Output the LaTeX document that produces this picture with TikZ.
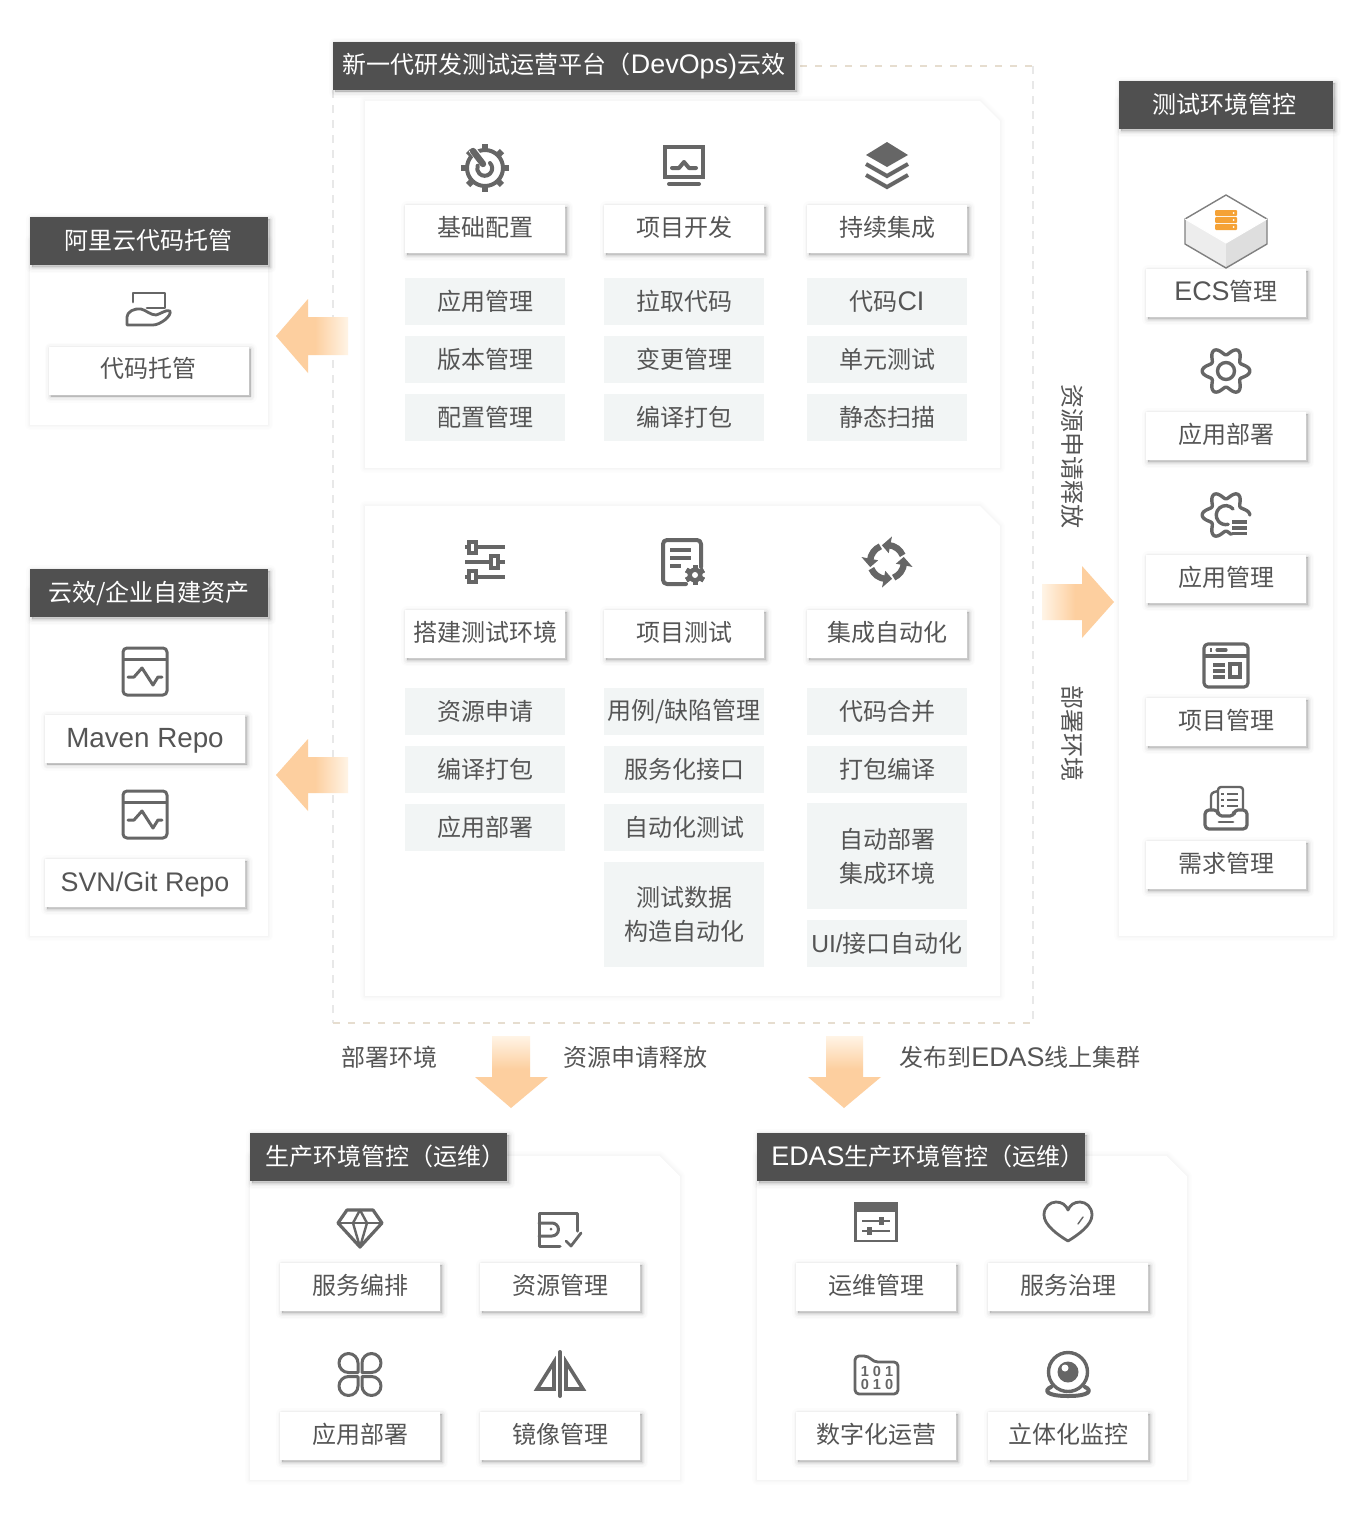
\documentclass[tikz,border=0pt]{standalone}
\usepackage{fontspec}
\usetikzlibrary{shadows}
\setmainfont{Noto Sans CJK SC}
\newfontfamily\latfont[Scale=1.12]{Liberation Sans}
\newcommand{\lat}[1]{{\latfont #1}}

\definecolor{barc}{HTML}{505050}
\definecolor{textc}{HTML}{555555}
\definecolor{iconc}{HTML}{666666}
\definecolor{cellc}{HTML}{F2F5F5}
\definecolor{arrowc}{HTML}{FDCF9F}
\definecolor{arrowend}{HTML}{FFF4E6}
\definecolor{dashc}{HTML}{E8E8E8}
\definecolor{dotc}{HTML}{E6DDCF}
\definecolor{ecsc}{HTML}{F5A236}

\pgfdeclarehorizontalshading{arrowfade}{100bp}{color(0bp)=(arrowc); color(52bp)=(arrowc); color(75bp)=(arrowend); color(100bp)=(arrowend)}

\tikzset{
    softline/.style={draw=black, fill=black, line join=round, line width=#1},
    cardedge/.style={
        general shadow={softline=6pt, opacity=.01, shadow xshift=1pt, shadow yshift=-1.2pt},
        general shadow={softline=4.5pt, opacity=.016, shadow xshift=1pt, shadow yshift=-1.2pt},
        general shadow={softline=3pt, opacity=.03, shadow xshift=1pt, shadow yshift=-1.2pt},
        general shadow={softline=1.5pt, opacity=.04, shadow xshift=1pt, shadow yshift=-1.2pt},
        general shadow={softline=.5pt, opacity=.05, shadow xshift=1pt, shadow yshift=-1.2pt}},
    paneledge/.style={
        general shadow={softline=5pt, opacity=.006, shadow xshift=0pt, shadow yshift=0pt},
        general shadow={softline=3.5pt, opacity=.008, shadow xshift=0pt, shadow yshift=0pt},
        general shadow={softline=2pt, opacity=.01, shadow xshift=0pt, shadow yshift=0pt},
        general shadow={softline=.8pt, opacity=.01, shadow xshift=0pt, shadow yshift=-.2pt}},
    panelbody/.style={fill=white, paneledge},
    cardbox/.style={fill=white, cardedge, text=textc, inner sep=0pt, minimum width=80pt, minimum height=24pt, text height=10.5pt, text depth=3.4pt},
    cellbox/.style={fill=cellc, text=textc, inner sep=0pt, minimum width=80pt, minimum height=23.5pt, align=center},
    titlebar/.style={fill=barc, cardedge, text=white, inner sep=0pt, minimum height=24pt, text height=10.5pt, text depth=2.4pt},
    plainlabel/.style={text=textc, inner sep=0pt},
    iconline/.style={draw=iconc, line width=#1, line cap=round, line join=round},
    iconline/.default=1.5pt,
    blockarrow/.style={shading=arrowfade, shading angle=#1},
    gearclock/.pic={
        \foreach \a in {0,45,...,315} {
            \fill[iconc, rotate=\a] (-3,-24) rectangle (3,-17);
        }
        \draw[iconc, line width=2pt] (0,0) circle[radius=18];
        \draw[white, line width=4pt] (-13,-19) -- (-1,-3);
        \draw[iconc, line width=3.2pt, line cap=round] (-12,-17) -- (-2,-4);
        \draw[iconline=2pt] (5,-5) arc[start angle=-45, end angle=200, radius=7.5];
    },
    monitoricon/.pic={
        \draw[iconc, line width=2pt] (-19,-18) rectangle (19,12);
        \draw[iconline=2pt] (-12,3) -- (-5,3) -- (0,-3) -- (5,3) -- (12,3);
        \draw[iconline=2pt] (-15,19) -- (15,19);
    },
    layericon/.pic={
        \fill[iconc, line join=round] (0,-23) -- (21,-10) -- (0,2) -- (-21,-10) -- cycle;
        \draw[iconc, line width=2pt] (-21,-1) -- (0,11) -- (21,-1);
        \draw[iconc, line width=2pt] (-21,10) -- (0,22) -- (21,10);
    },
    slidericon/.pic={
        \draw[iconc, line width=2pt] (-20,-15) -- (20,-15);
        \draw[iconc, line width=2pt] (-20,0) -- (20,0);
        \draw[iconc, line width=2pt] (-20,15) -- (20,15);
        \draw[iconc, line width=2pt, fill=white] (-16,-20) rectangle (-9,-9);
        \draw[iconc, line width=2pt, fill=white] (6,-6) rectangle (13,6);
        \draw[iconc, line width=2pt, fill=white] (-16,9) rectangle (-9,20);
    },
    docgearicon/.pic={
        \draw[iconline=2pt, rounded corners=2pt] (18,5) -- (18,-22) -- (-20,-22) -- (-20,22) -- (3,22);
        \fill[iconc] (-13,-14) rectangle (8,-10);
        \fill[iconc] (-13,-6) rectangle (8,-2);
        \fill[iconc] (-13,2) rectangle (-2,6);
        \foreach \a in {0,60,...,300} {
            \fill[iconc, rotate around={\a:(12,13)}] (9.5,3) rectangle (14.5,23);
        }
        \fill[iconc] (12,13) circle[radius=7.5];
        \fill[white] (12,13) circle[radius=3];
    },
    cycleicon/.pic={
        \foreach \a in {-107,-17,73,163} {
            \draw[iconc, line width=3.2pt] (\a+22:17) arc[start angle=\a+22, end angle=\a+84, radius=17];
            \fill[iconc] (\a:17.5) -- (\a+28:9) -- (\a+28:26) -- cycle;
        }
    },
    ecsicon/.pic={
        \fill[white] (0,-37) -- (41,-13) -- (0,11) -- (-41,-13) -- cycle;
        \fill[black!7] (-41,-13) -- (0,11) -- (0,36) -- (-41,12) -- cycle;
        \fill[black!13] (41,-13) -- (0,11) -- (0,36) -- (41,12) -- cycle;
        \draw[black!50, line width=.7pt, line join=round] (0,-37) -- (41,-13) -- (41,12) -- (0,36) -- (-41,12) -- (-41,-13) -- cycle;
        \draw[white, line width=.5pt] (-41,-13) -- (0,11) -- (41,-13);
        \foreach \v in {-22,-15,-8} {
            \fill[ecsc, rounded corners=.5pt] (-11,\v) rectangle (11,\v+6);
            \fill[white] (7.5,\v+3) circle[radius=1];
        }
    },
    gearoutline/.pic={
        \draw[iconline=1.7pt] plot[domain=0:360, samples=120, smooth] ({(20+3.8*cos(6*\x))*cos(\x)}, {(20+3.8*cos(6*\x))*sin(\x)}) -- cycle;
        \draw[iconline=1.7pt] (0,0) circle[radius=8.5];
    },
    gearlisticon/.pic={
        \draw[iconline=1.7pt] plot[domain=75:360, samples=100, smooth] ({(20+3.8*cos(6*\x))*cos(\x)}, {(20+3.8*cos(6*\x))*sin(\x)});
        \draw[iconline=1.7pt] (7,-6) arc[start angle=-40, end angle=-285, radius=9.5];
        \draw[iconc, line width=1.6pt] (6,7) -- (21,7);
        \draw[iconc, line width=1.6pt] (6,13) -- (21,13);
        \draw[iconc, line width=1.6pt] (6,18.5) -- (21,18.5);
    },
    windowicon/.pic={
        \draw[iconline=1.6pt, rounded corners=2pt] (-22,-21) rectangle (22,22);
        \draw[iconc, line width=1.6pt] (-22,-9) -- (22,-9);
        \draw[iconc, line width=1.6pt] (-16,-15) -- (-14,-15);
        \draw[iconline=1.6pt] (-9,-15) -- (0,-15);
        \draw[iconc, line width=1.6pt] (-13,0) -- (-1,0);
        \draw[iconc, line width=1.6pt] (-13,6) -- (-1,6);
        \draw[iconc, line width=1.6pt] (-13,12) -- (-1,12);
        \draw[iconc, line width=1.6pt] (4,-1) rectangle (14,12);
    },
    trayicon/.pic={
        \draw[iconline=1.2pt, rounded corners=1.5pt] (-8,3) -- (-8,-21) -- (17,-21) -- (17,3);
        \draw[iconline=1.2pt, rounded corners=1.5pt] (-15,3) -- (-15,-15) -- (-8,-17);
        \draw[iconc, line width=1.2pt] (-5,-14) -- (-2,-14);
        \draw[iconc, line width=1.2pt] (1,-14) -- (12,-14);
        \draw[iconc, line width=1.2pt] (-5,-8) -- (-2,-8);
        \draw[iconc, line width=1.2pt] (1,-8) -- (12,-8);
        \draw[iconc, line width=1.2pt] (-5,-2) -- (-2,-2);
        \draw[iconc, line width=1.2pt] (1,-2) -- (12,-2);
        \draw[iconline=1.6pt, fill=white, rounded corners=2pt] (-21,2) -- (-8,2) -- (-8,8) -- (8,8) -- (8,2) -- (21,2) -- (21,21) -- (-21,21) -- cycle;
        \draw[iconline=1.4pt] (-7,14) -- (7,14);
    },
    handicon/.pic={
        \draw[iconline=1.4pt] (-15,-7) -- (-15,-16) -- (17,-16) -- (17,-1) -- (-1,-1);
        \draw[iconline=1.4pt] (-21,16) -- (-21,8) .. controls (-21,3) and (-14,-1) .. (-7,0) .. controls (-2,1) and (2,6) .. (8,6) .. controls (13,5) and (18,0) .. (22,2) .. controls (24,7) and (12,16) .. (5,16) -- cycle;
    },
    repoicon/.pic={
        \draw[iconline=1.5pt, rounded corners=2pt] (-22,-23) rectangle (22,24);
        \draw[iconc, line width=1.5pt] (-22,-12) -- (22,-12);
        \draw[iconline=1.5pt] (-17,6) -- (-11,6) -- (-3,-3) -- (8,14) -- (13,6) -- (17,6);
    },
    diamondicon/.pic={
        \draw[iconline=1.6pt] (-13,-18) -- (13,-18) -- (22,-5) -- (0,19) -- (-22,-5) -- cycle;
        \draw[iconline=1.2pt] (-22,-5) -- (22,-5);
        \draw[iconline=1.2pt] (-7,-5) -- (0,-18) -- (7,-5) -- (0,19) -- cycle;
    },
    walleticon/.pic={
        \draw[iconline=1.5pt] (17,2) -- (17,-16) -- (-21,-16) -- (-21,17) -- (0,17);
        \draw[iconline=1.5pt] (-21,-6) -- (-8,-6) arc[start angle=-90, end angle=90, radius=6.5] -- (-21,7);
        \fill[iconc] (-9,0) circle[radius=1.5];
        \draw[iconline=1.4pt] (6,12) -- (11,17) -- (21,4);
    },
    clovericon/.pic={
        \foreach \sx/\sy in {1/1,1/-1,-1/1,-1/-1} {
            \draw[iconline=1.5pt, xscale=\sx, yscale=\sy] (2,2) -- (2,11.5) arc[start angle=180, end angle=-90, radius=9.5] -- cycle;
        }
    },
    mirroricon/.pic={
        \draw[iconline=2pt] (0,-22) -- (0,22);
        \draw[iconc, line width=1.8pt, line join=miter] (-6,-12) -- (-6,15) -- (-23,15) -- cycle;
        \draw[iconc, line width=1.8pt, line join=miter] (6,-12) -- (6,15) -- (23,15) -- cycle;
    },
    sliderwinicon/.pic={
        \draw[iconc, line width=1.4pt] (-20.5,-19) rectangle (20.5,19);
        \fill[iconc] (-20.5,-19) rectangle (20.5,-10);
        \draw[iconc, line width=1.2pt] (-14,-1) -- (14,-1);
        \draw[iconc, line width=1.2pt] (-14,9) -- (14,9);
        \fill[iconc] (3,-5) rectangle (8,3);
        \fill[iconc] (-9,5) rectangle (-4,13);
    },
    hearticon/.pic={
        \draw[iconline=1.4pt] (0,20) .. controls (-10,14) and (-24,4) .. (-24,-6) .. controls (-24,-14) and (-18,-19) .. (-12,-19) .. controls (-6,-19) and (-2,-16) .. (0,-11) .. controls (2,-16) and (6,-19) .. (12,-19) .. controls (18,-19) and (24,-14) .. (24,-6) .. controls (24,4) and (10,14) .. (0,20) -- cycle;
        \draw[iconline=.7pt] (10,3) -- (15,-4);
    },
    foldericon/.pic={
        \draw[iconline=1.4pt, rounded corners=2pt] (-21,19) -- (-21,-19) -- (-8,-19) -- (-2,-13) -- (22,-13) -- (22,19) -- cycle;
    },
    webcamicon/.pic={
        \draw[iconc, line width=1.7pt] (0,-3) circle[radius=19.5];
        \fill[iconc] (0,-3) circle[radius=10.5];
        \fill[white] (-3,-7) circle[radius=3.5];
        \draw[iconline=2pt] (-17,12) .. controls (-24,15) and (-23,21) .. (0,21) .. controls (23,21) and (24,15) .. (17,12);
    },
}

\begin{document}
\begin{tikzpicture}[x=.5pt, y=-.5pt]
    \fontsize{12}{17}\selectfont
    \useasboundingbox (0,0) rectangle (1360,1521);
    \fill[white] (0,0) rectangle (1360,1521);

    % dashed frame round the two middle panels
    \draw[dashc, line width=.6pt, dash pattern=on 4pt off 3.5pt] (333,90) -- (333,1023);
    \draw[dashc, line width=.6pt, dash pattern=on 4pt off 3.5pt] (1033,66) -- (1033,1023);
    \draw[dotc, line width=.6pt, dash pattern=on 3.5pt off 4pt] (800,66) -- (1033,66);
    \draw[dotc, line width=.6pt, dash pattern=on 3.5pt off 4pt] (333,1023) -- (1033,1023);

    % panels
    \path[panelbody] (365,101) -- (980,101) -- (1000,121) -- (1000,468) -- (365,468) -- cycle;
    \path[panelbody] (365,506) -- (980,506) -- (1000,526) -- (1000,996) -- (365,996) -- cycle;
    \path[panelbody] (1119,100) rectangle (1333,936);
    \path[panelbody] (30,240) rectangle (268,425);
    \path[panelbody] (30,590) rectangle (268,936);
    \path[panelbody] (250,1156) -- (660,1156) -- (680,1176) -- (680,1480) -- (250,1480) -- cycle;
    \path[panelbody] (757,1156) -- (1167,1156) -- (1187,1176) -- (1187,1480) -- (757,1480) -- cycle;

    % block arrows
    \shade[blockarrow=0] (276,336) -- (308,299) -- (308,317) -- (348,317) -- (348,355) -- (308,355) -- (308,373) -- cycle;
    \shade[blockarrow=0] (276,775) -- (308,739) -- (308,757) -- (348,757) -- (348,793) -- (308,793) -- (308,811) -- cycle;
    \shade[blockarrow=180] (1114,602) -- (1082,566) -- (1082,584) -- (1042,584) -- (1042,620) -- (1082,620) -- (1082,638) -- cycle;
    \shade[blockarrow=90] (511,1108) -- (475,1077) -- (492,1077) -- (492,1036) -- (530,1036) -- (530,1077) -- (548,1077) -- cycle;
    \shade[blockarrow=90] (844,1108) -- (808,1077) -- (826,1077) -- (826,1036) -- (863,1036) -- (863,1077) -- (881,1077) -- cycle;

    % titles
    \node[titlebar, minimum width=231pt] (devops) at (564,65.5) {新一代研发测试运营平台（\lat{DevOps)}云效};
    \node[titlebar, minimum width=107pt] (testenv) at (1226,105) {测试环境管控\hspace*{2pt}};
    \node[titlebar, minimum width=119pt] (aliyun) at (149,241) {阿里云代码托管\hspace*{1pt}};
    \node[titlebar, minimum width=119pt] (assets) at (149,593) {云效/企业自建资产};
    \node[titlebar, minimum width=128.5pt] (prod) at (378.5,1157) {\hspace*{6.5pt}生产环境管控（运维）};
    \node[titlebar, minimum width=164pt] (edas) at (921,1157) {\hspace*{7pt}\lat{EDAS}生产环境管控（运维）};

    % top panel
    \pic at (485,168) {gearclock};
    \pic at (684,165) {monitoricon};
    \pic at (887,165) {layericon};
    \node[cardbox] (basecfg) at (485,229) {基础配置};
    \node[cardbox] (devproj) at (684,229) {项目开发};
    \node[cardbox] (contint) at (887,229) {持续集成};
    \node[cellbox] (appmgr) at (485,301.5) {应用管理};
    \node[cellbox] (vermgr) at (485,359.5) {版本管理};
    \node[cellbox] (cfgmgr) at (485,417.5) {配置管理};
    \node[cellbox] (pullcode) at (684,301.5) {拉取代码};
    \node[cellbox] (changemgr) at (684,359.5) {变更管理};
    \node[cellbox] (buildpkg) at (684,417.5) {编译打包};
    \node[cellbox] (codeci) at (887,301.5) {代码\lat{CI}};
    \node[cellbox] (unittest) at (887,359.5) {单元测试};
    \node[cellbox] (staticscan) at (887,417.5) {静态扫描};

    % lower panel
    \pic at (485,562) {slidericon};
    \pic at (683,562) {docgearicon};
    \pic at (887,562) {cycleicon};
    \node[cardbox] (buildenv) at (485,634) {搭建测试环境};
    \node[cardbox] (testproj) at (684,634) {项目测试};
    \node[cardbox] (intauto) at (887,634) {集成自动化};
    \node[cellbox] (resapply) at (485,711.5) {资源申请};
    \node[cellbox] (buildpkgb) at (485,769.5) {编译打包};
    \node[cellbox] (appdeploy) at (485,827.5) {应用部署};
    \node[cellbox] (casemgr) at (684,711.5) {用例/缺陷管理};
    \node[cellbox] (svcapi) at (684,769.5) {服务化接口};
    \node[cellbox] (autotest) at (684,827.5) {自动化测试};
    \node[cellbox, minimum height=52.5pt] (testdata) at (684,914) {测试数据\\构造自动化};
    \node[cellbox] (merge) at (887,711.5) {代码合并};
    \node[cellbox] (pkgbuild) at (887,769.5) {打包编译};
    \node[cellbox, minimum height=53pt] (autodeploy) at (887,856) {自动部署\\集成环境};
    \node[cellbox] (uiauto) at (887,943.5) {{\fontsize{11}{17}\latfont UI/}接口自动化};

    % right column
    \pic at (1226,232) {ecsicon};
    \pic at (1226,371) {gearoutline};
    \pic at (1226,515) {gearlisticon};
    \pic at (1226,665) {windowicon};
    \pic at (1226,808) {trayicon};
    \node[cardbox] (ecsmgr) at (1226,293) {\lat{ECS}管理};
    \node[cardbox] (appdep) at (1226,436) {应用部署};
    \node[cardbox] (appman) at (1226,579) {应用管理};
    \node[cardbox] (projmgr) at (1226,722) {项目管理};
    \node[cardbox] (reqmgr) at (1226,865) {需求管理};

    % left column
    \pic at (148,309) {handicon};
    \pic at (145,671) {repoicon};
    \pic at (145,814) {repoicon};
    \node[cardbox, minimum width=100pt] (codehost) at (148.5,370.5) {代码托管};
    \node[cardbox, minimum width=100pt, text depth=1.6pt] (maven) at (145,738.5) {{\fontsize{12.4}{17}\latfont Maven Repo}};
    \node[cardbox, minimum width=100pt, text depth=1.6pt] (svngit) at (145,883) {\lat{SVN/Git Repo}};

    % bottom left panel
    \pic at (360,1228) {diamondicon};
    \pic at (560,1229) {walleticon};
    \pic at (360,1374.5) {clovericon};
    \pic at (560,1374) {mirroricon};
    \node[cardbox] (svcorch) at (360,1287) {服务编排};
    \node[cardbox] (resmgr) at (560,1287) {资源管理};
    \node[cardbox] (appdepb) at (360,1436) {应用部署};
    \node[cardbox] (imgmgr) at (560,1436) {镜像管理};

    % bottom right panel
    \pic at (876,1222) {sliderwinicon};
    \pic at (1068,1221) {hearticon};
    \pic at (876,1375) {foldericon};
    \pic at (1068,1375) {webcamicon};
    \node[text=iconc, inner sep=0pt, font=\fontsize{6.5}{6.5}\latfont\bfseries, align=center] (bits) at (877,1377.5) {1\;0\;1\\0\;1\;0};
    \node[cardbox] (opsmgr) at (876,1287) {运维管理};
    \node[cardbox] (svcgov) at (1068,1287) {服务治理};
    \node[cardbox] (digiops) at (876,1436) {数字化运营};
    \node[cardbox] (monitor) at (1068,1436) {立体化监控};

    % free labels
    \node[plainlabel, rotate=-90] (resfree) at (1073,456) {资源申请释放};
    \node[plainlabel, rotate=-90] (depenv) at (1073,733) {部署环境};
    \node[plainlabel] (depenvb) at (389,1057) {部署环境};
    \node[plainlabel] (resfreeb) at (635,1057) {资源申请释放};
    \node[plainlabel] (publish) at (1020,1057) {发布到\lat{EDAS}线上集群};
\end{tikzpicture}
\end{document}
